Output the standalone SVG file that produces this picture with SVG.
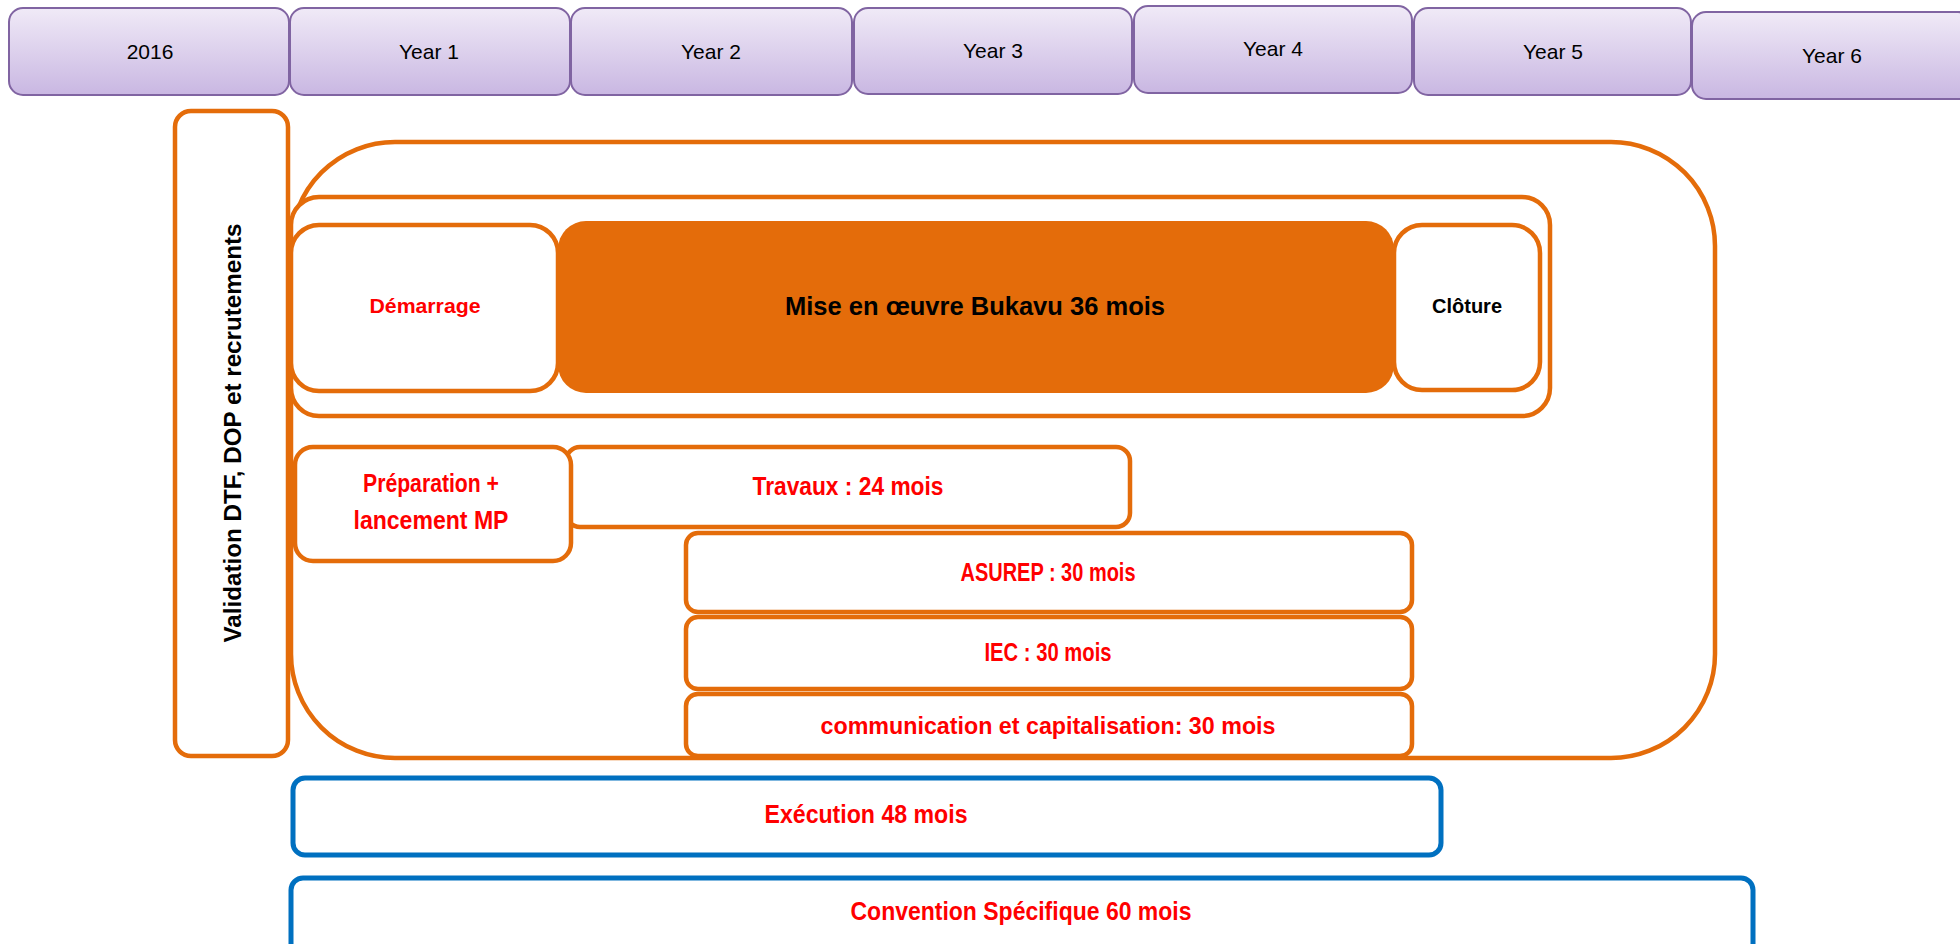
<svg xmlns="http://www.w3.org/2000/svg" width="1960" height="944" viewBox="0 0 1960 944">
<defs>
<linearGradient id="lav" x1="0" y1="0" x2="0" y2="1">
<stop offset="0" stop-color="#f0eaf7"/>
<stop offset="1" stop-color="#c9b7e2"/>
</linearGradient>
<style>
.yr{fill:url(#lav);stroke:#8064a2;stroke-width:2}
.yt{font-family:"Liberation Sans",Arial,sans-serif;font-size:21px;fill:#000;text-anchor:middle;dominant-baseline:central}
.ob{fill:#fff;stroke:#e46c0a;stroke-width:4.5}
.bb{fill:#fff;stroke:#0070c0;stroke-width:5}
.t{font-family:"Liberation Sans",Arial,sans-serif;font-weight:bold;text-anchor:middle;dominant-baseline:central}
.r{fill:#ff0000}
.k{fill:#000}
</style>
</defs>
<rect width="1960" height="944" fill="#fff"/>
<g id="years">
<g id="y2016"><rect class="yr" x="9" y="8" width="280" height="87" rx="14"/><text class="yt" x="150" y="51">2016</text></g>
<g id="y1"><rect class="yr" x="290" y="8" width="280" height="87" rx="14"/><text class="yt" x="429" y="51">Year 1</text></g>
<g id="y2"><rect class="yr" x="571" y="8" width="281" height="87" rx="14"/><text class="yt" x="711" y="51">Year 2</text></g>
<g id="y3"><rect class="yr" x="854" y="8" width="278" height="86" rx="14"/><text class="yt" x="993" y="50">Year 3</text></g>
<g id="y4"><rect class="yr" x="1134" y="6" width="278" height="87" rx="14"/><text class="yt" x="1273" y="48">Year 4</text></g>
<g id="y5"><rect class="yr" x="1414" y="8" width="277" height="87" rx="14"/><text class="yt" x="1553" y="51">Year 5</text></g>
<g id="y6"><rect class="yr" x="1692" y="12" width="280" height="87" rx="14"/><text class="yt" x="1832" y="55">Year 6</text></g>
</g>
<g id="validation"><rect class="ob" x="175" y="111" width="113" height="645" rx="16"/>
<text class="t k" font-size="24" transform="translate(232,433) rotate(-90)" textLength="419" lengthAdjust="spacingAndGlyphs">Validation DTF, DOP  et recrutements</text></g>
<g id="execution-phase"><rect class="ob" x="291" y="142" width="1424" height="616" rx="104"/></g>
<g id="bukavu-phase"><rect class="ob" x="291" y="197" width="1259" height="219" rx="28"/></g>
<g id="demarrage"><rect class="ob" x="291" y="225" width="267" height="166" rx="28"/><text class="t r" font-size="20" x="425" y="306" textLength="111" lengthAdjust="spacingAndGlyphs">Démarrage</text></g>
<g id="mise-en-oeuvre"><rect x="558" y="221" width="836" height="172" rx="28" fill="#e46c0a"/><text class="t k" font-size="26" x="975" y="306" textLength="380" lengthAdjust="spacingAndGlyphs">Mise en œuvre Bukavu 36 mois</text></g>
<g id="cloture"><rect class="ob" x="1394" y="225" width="146" height="165" rx="28"/><text class="t k" font-size="20" x="1467" y="306" textLength="70" lengthAdjust="spacingAndGlyphs">Clôture</text></g>
<g id="travaux"><rect class="ob" x="566" y="447" width="564" height="80" rx="14"/><text class="t r" font-size="25" x="848" y="486" textLength="191" lengthAdjust="spacingAndGlyphs">Travaux : 24 mois</text></g>
<g id="preparation"><rect class="ob" x="295" y="447" width="276" height="114" rx="18"/>
<text class="t r" font-size="25" x="431" y="483" textLength="136" lengthAdjust="spacingAndGlyphs">Préparation +</text>
<text class="t r" font-size="25" x="431" y="520" textLength="155" lengthAdjust="spacingAndGlyphs">lancement MP</text></g>
<g id="asurep"><rect class="ob" x="686" y="533" width="726" height="79" rx="12"/><text class="t r" font-size="25" x="1048" y="572" textLength="175" lengthAdjust="spacingAndGlyphs">ASUREP : 30 mois</text></g>
<g id="iec"><rect class="ob" x="686" y="617" width="726" height="72" rx="12"/><text class="t r" font-size="25" x="1048" y="652" textLength="127" lengthAdjust="spacingAndGlyphs">IEC : 30 mois</text></g>
<g id="communication"><rect class="ob" x="686" y="694" width="726" height="62" rx="12"/><text class="t r" font-size="24" x="1048" y="725" textLength="455" lengthAdjust="spacingAndGlyphs">communication et capitalisation: 30 mois</text></g>
<g id="execution"><rect class="bb" x="293" y="778" width="1148" height="77" rx="12"/><text class="t r" font-size="25" x="866" y="814" textLength="203" lengthAdjust="spacingAndGlyphs">Exécution 48 mois</text></g>
<g id="convention"><rect class="bb" x="291" y="878" width="1462" height="90" rx="12"/><text class="t r" font-size="25" x="1021" y="911" textLength="341" lengthAdjust="spacingAndGlyphs">Convention Spécifique 60 mois</text></g>
<g id="connectors"></g>
</svg>
